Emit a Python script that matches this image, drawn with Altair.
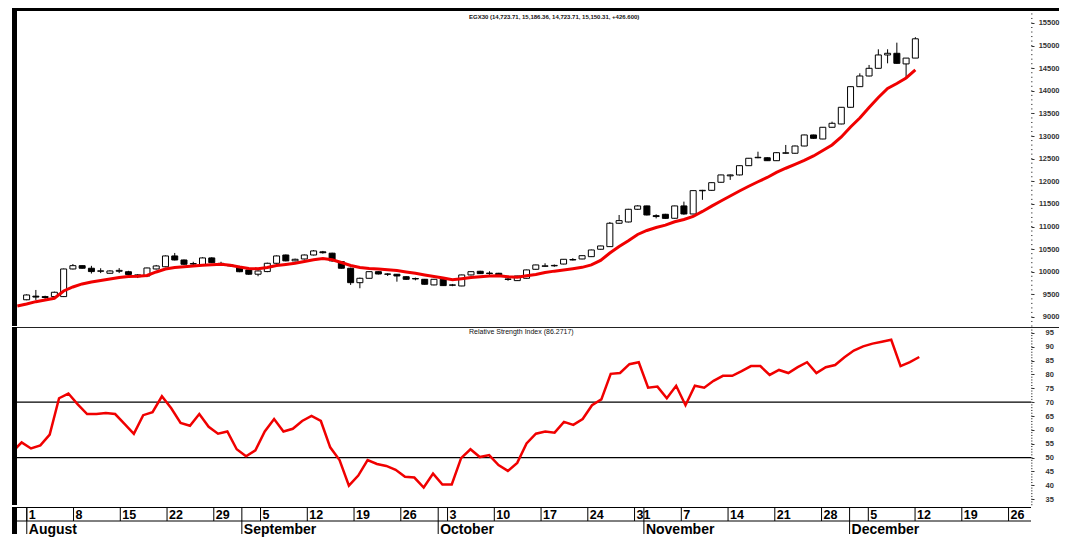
import altair as alt
import pandas as pd

# ---------------- data ----------------
# candles: Sun 31 Jul 2022 ... Mon 12 Dec 2022 (Egyptian trading week Sun-Thu)
opens = [9380, 9460, 9450, 9450, 9450, 10061, 10134, 10077, 10010, 9966, 10010, 10000, 9930, 9906,
         10061, 10110, 10349, 10260, 10180, 10150, 10305, 10185, 10150, 10110, 10040, 9945, 10003,
         10187, 10370, 10240, 10282, 10370, 10440, 10410, 10223, 10077, 9758, 9855, 10001, 9950,
         9944, 9890, 9850, 9833, 9708, 9833, 9700, 9685, 9929, 10010, 9970, 9966, 9840, 9803, 9855,
         10054, 10120, 10130, 10170, 10260, 10282, 10333, 10497, 10555, 11072, 11100, 11381, 11455,
         11240, 11270, 11182, 11455, 11277, 11790, 11800, 11978, 12120, 12140, 12345, 12520, 12520,
         12455, 12620, 12620, 12780, 13024, 12935, 13194, 13267, 13636, 14092, 14328, 14498, 14793,
         14830, 14595, 14723.71]
highs = [9500, 9597, 9470, 9560, 10070, 10170, 10140, 10130, 10077, 10030, 10080, 10020, 9945, 10090,
         10150, 10360, 10415, 10270, 10220, 10320, 10320, 10220, 10170, 10130, 10050, 10030, 10200,
         10360, 10380, 10290, 10380, 10480, 10460, 10420, 10230, 10090, 9870, 10010, 10010, 9966,
         9950, 9900, 9870, 9840, 9840, 9840, 9730, 9935, 10010, 10020, 10010, 9975, 9870, 9910, 10045,
         10155, 10187, 10160, 10280, 10300, 10360, 10490, 10575, 11100, 11255, 11390, 11470, 11460,
         11270, 11280, 11460, 11550, 11800, 11810, 11975, 12145, 12150, 12350, 12515, 12654, 12530,
         12640, 12803, 12790, 13030, 13030, 13200, 13318, 13640, 14100, 14387, 14572, 14918, 14918,
         15065, 14725, 15186.36]
lows = [9370, 9376, 9400, 9440, 9440, 10050, 10070, 9960, 9970, 9960, 9970, 9930, 9860, 9880,
        10050, 10100, 10250, 10150, 10120, 10140, 10190, 10130, 10110, 9990, 9930, 9900, 9990,
        10180, 10230, 10230, 10270, 10360, 10400, 10220, 10070, 9708, 9635, 9850, 9940, 9906,
        9780, 9820, 9810, 9715, 9700, 9685, 9680, 9680, 9920, 9950, 9930, 9900, 9800, 9795, 9850,
        10045, 10110, 10110, 10165, 10250, 10275, 10325, 10490, 10550, 11060, 11090, 11370, 11245,
        11180, 11170, 11175, 11260, 11270, 11590, 11790, 11970, 12030, 12130, 12340, 12510, 12450,
        12450, 12610, 12610, 12775, 12940, 12930, 13190, 13260, 13630, 14085, 14320, 14490, 14608,
        14600, 14277, 14723.71]
closes = [9486, 9440, 9430, 9546, 10061, 10134, 10077, 10003, 10020, 10017, 10030, 9940, 9890, 10083,
          10128, 10349, 10260, 10165, 10170, 10305, 10200, 10175, 10130, 10000, 9945, 10017, 10187,
          10349, 10240, 10275, 10370, 10460, 10420, 10240, 10077, 9758, 9855, 10001, 9950, 9945,
          9906, 9833, 9840, 9723, 9833, 9693, 9710, 9929, 10001, 9958, 9960, 9906, 9830, 9906, 10040,
          10150, 10130, 10140, 10275, 10270, 10355, 10481, 10570, 11072, 11130, 11381, 11455, 11255,
          11220, 11180, 11455, 11277, 11793, 11800, 11969, 12140, 12140, 12345, 12509, 12530, 12455,
          12632, 12630, 12780, 13024, 12950, 13194, 13282, 13636, 14092, 14328, 14498, 14793, 14830,
          14608, 14723.71, 15150.31]

# red moving average and RSI: Thu 28 Jul 2022 ... Mon 12 Dec 2022
ma_line = [9243, 9287, 9338, 9376, 9413, 9575, 9663, 9730, 9774, 9807, 9840, 9873, 9895, 9900, 9918,
           9995, 10061, 10094, 10112, 10128, 10143, 10154, 10165, 10143, 10105, 10072, 10066, 10094,
           10139, 10161, 10187, 10227, 10265, 10293, 10265, 10205, 10139, 10094, 10072, 10061, 10044,
           10026, 9995, 9964, 9929, 9895, 9862, 9822, 9845, 9871, 9891, 9906, 9913, 9891, 9878, 9911,
           9940, 9982, 10013, 10039, 10068, 10097, 10150, 10249, 10415, 10559, 10685, 10824, 10912,
           10979, 11030, 11105, 11156, 11222, 11333, 11450, 11565, 11675, 11786, 11890, 11989, 12084,
           12195, 12288, 12372, 12460, 12560, 12681, 12803, 12980, 13201, 13400, 13632, 13853, 14052,
           14163, 14284, 14461]
rsi_line = [52.0, 55.5, 53.3, 54.4, 58.3, 71.4, 73.1, 69.2, 65.7, 65.7, 66.1, 65.7, 62.2, 58.6, 65.3,
            66.4, 72.1, 67.8, 62.5, 61.5, 65.7, 61.1, 58.6, 59.4, 53.0, 50.5, 52.6, 59.4, 63.9, 59.4,
            60.4, 63.2, 65.0, 63.2, 53.7, 49.1, 39.9, 43.5, 49.1, 47.7, 47.0, 45.6, 43.1, 42.8, 39.2,
            44.2, 40.3, 40.3, 49.8, 53.0, 50.2, 50.9, 47.3, 45.2, 48.1, 55.1, 58.6, 59.4, 59.0, 62.9,
            61.8, 63.9, 68.9, 71.0, 80.2, 80.5, 83.7, 84.4, 75.2, 75.6, 71.4, 75.9, 68.9, 75.9, 75.2,
            77.7, 79.5, 79.5, 81.2, 83.0, 83.0, 79.8, 81.6, 80.5, 82.6, 84.4, 80.5, 82.6, 83.4, 86.2,
            88.6, 90.1, 91.1, 91.8, 92.5, 83.0, 84.4, 86.2717]

price_ticks = [9000, 9500, 10000, 10500, 11000, 11500, 12000, 12500, 13000, 13500, 14000, 14500,
               15000, 15500]
price_minor = list(range(8800, 15800, 100))
rsi_ticks = [35, 40, 45, 50, 55, 60, 65, 70, 75, 80, 85, 90, 95]
rsi_minor = list(range(33, 97))
rsi_levels = [70, 50]
month_numbers = [8, 9, 10, 11, 12]
month_names = ["August", "September", "October", "November", "December"]

# ---------------- trading calendar -> slot index (Mon 1 Aug 2022 = 0) ----------------
all_days = pd.date_range("2022-07-28", "2022-12-31", freq="D")
trade_days = list(all_days[all_days.dayofweek.isin([6, 0, 1, 2, 3])])
origin = trade_days.index(pd.Timestamp("2022-08-01"))
slots = [k - origin for k in range(len(trade_days))]

line_slots = slots[:len(ma_line)]
candle_slots = slots[1:1 + len(opens)]

candles = pd.DataFrame({"pos": candle_slots, "open": opens, "high": highs,
                        "low": lows, "close": closes})
lines = pd.DataFrame({"pos": line_slots, "ma": ma_line, "rsi": rsi_line})

mondays = [(d, s) for d, s in zip(trade_days, slots) if d.dayofweek == 0 and s >= 0]
weeks = pd.DataFrame({"pos": [s - 0.45 for _, s in mondays],
                      "label": [str(d.day) for d, _ in mondays]})
month_pos = []
for m in month_numbers:
    first = min(s for d, s in zip(trade_days, slots) if d.month == m)
    month_pos.append(first - 0.45)
months = pd.DataFrame({"pos": month_pos, "label": month_names})

prev_close = closes[-2]
title_txt = "EGX30 ({:,.2f}, {:,.2f}, {:,.2f}, {:,.2f}, {:+.3f})".format(
    opens[-1], highs[-1], lows[-1], closes[-1], closes[-1] - prev_close)
rsi_txt = "Relative Strength Index ({:.4f})".format(rsi_line[-1])

# ---------------- layout ----------------
W = 1014
H_P = 315
H_R = 178
H_A = 27
FONT = "Liberation Sans, Arial, sans-serif"
RED = "#f00000"

xs = alt.Scale(domain=[-1.497, 106.95], nice=False, zero=False)
ps = alt.Scale(domain=[8800, 15765], nice=False, zero=False)
rs = alt.Scale(domain=[32.9, 97.1], nice=False, zero=False)

X = alt.X("pos:Q", scale=xs, axis=None)

price_axis = alt.Axis(orient="right", values=price_ticks, format="d", domain=False, grid=False,
                      tickSize=3, tickColor="#333", tickWidth=1, labelFont=FONT, labelFontSize=7.5,
                      labelFontWeight="bold", labelColor="#333", labelAlign="right",
                      labelPadding=25, labelOverlap=False, labelBound=False, title=None)
rsi_axis = alt.Axis(orient="right", values=rsi_ticks, format="d", domain=False, grid=False,
                    tickSize=3, tickColor="#333", tickWidth=1, labelFont=FONT, labelFontSize=7.5,
                    labelFontWeight="bold", labelColor="#333", labelAlign="left",
                    labelPadding=11, labelOverlap=False, labelBound=False, title=None)

one = pd.DataFrame({"t": [title_txt]})
one_rsi = pd.DataFrame({"t": [rsi_txt]})

# ---- price panel ----
wicks = alt.Chart(candles).mark_rule(color="black", strokeWidth=1).encode(
    x=X, y=alt.Y("low:Q", scale=ps, axis=price_axis), y2="high:Q")
bodies = alt.Chart(candles).mark_bar(width=6, stroke="black", strokeWidth=1).encode(
    x=X, y=alt.Y("open:Q", scale=ps, axis=price_axis), y2="close:Q",
    fill=alt.when("datum.close >= datum.open").then(alt.value("white")).otherwise(alt.value("black")))
ma = alt.Chart(lines).mark_line(color=RED, strokeWidth=3, clip=True).encode(
    x=X, y=alt.Y("ma:Q", scale=ps, axis=price_axis))
p_minor = alt.Chart(pd.DataFrame({"v": price_minor})).mark_rule(color="#555", strokeWidth=1).encode(
    y=alt.Y("v:Q", scale=ps, axis=price_axis), x=alt.value(W), x2=alt.value(W + 1.5))
top_band = alt.Chart(one).mark_rect(color="black").encode(
    x=alt.value(-5), x2=alt.value(W + 28), y=alt.value(-3), y2=alt.value(0))
left_p = alt.Chart(one).mark_rect(color="black").encode(
    x=alt.value(-5), x2=alt.value(0), y=alt.value(-3), y2=alt.value(H_P))
title_p = alt.Chart(one).mark_text(align="left", baseline="middle", font=FONT, fontSize=6,
                                   fontWeight="bold", color="#111").encode(
    x=alt.value(452), y=alt.value(6), text="t:N")
price_panel = alt.layer(p_minor, wicks, bodies, ma, top_band, left_p, title_p).properties(
    width=W, height=H_P)

# ---- RSI panel ----
rsi_l = alt.Chart(lines).mark_line(color=RED, strokeWidth=2.5, clip=True).encode(
    x=X, y=alt.Y("rsi:Q", scale=rs, axis=rsi_axis))
levels = alt.Chart(pd.DataFrame({"lv": rsi_levels})).mark_rule(color="black", strokeWidth=1.2).encode(
    y=alt.Y("lv:Q", scale=rs, axis=rsi_axis), x=alt.value(0), x2=alt.value(W))
r_minor = alt.Chart(pd.DataFrame({"v": rsi_minor})).mark_rule(color="#555", strokeWidth=1).encode(
    y=alt.Y("v:Q", scale=rs, axis=rsi_axis), x=alt.value(W), x2=alt.value(W + 1.5))
sep_r = alt.Chart(one).mark_rule(color="#222", strokeWidth=1).encode(
    x=alt.value(0), x2=alt.value(W + 28), y=alt.value(0.5))
left_r = alt.Chart(one).mark_rect(color="black").encode(
    x=alt.value(-5), x2=alt.value(0), y=alt.value(0), y2=alt.value(H_R))
title_r = alt.Chart(one_rsi).mark_text(align="left", baseline="middle", font=FONT, fontSize=7,
                                       color="#111").encode(
    x=alt.value(452), y=alt.value(5), text="t:N")
rsi_panel = alt.layer(r_minor, levels, rsi_l, sep_r, left_r, title_r).properties(width=W, height=H_R)

# ---- date axis panel ----
hl1 = alt.Chart(one).mark_rule(color="black", strokeWidth=1).encode(
    x=alt.value(0), x2=alt.value(W), y=alt.value(0.5))
hl2 = alt.Chart(one).mark_rule(color="black", strokeWidth=1).encode(
    x=alt.value(0), x2=alt.value(W), y=alt.value(14))
wk_rules = alt.Chart(weeks).mark_rule(color="black", strokeWidth=1).encode(
    x=X, y=alt.value(0), y2=alt.value(14))
wk_text = alt.Chart(weeks).mark_text(align="left", baseline="alphabetic", dx=2, font=FONT,
                                     fontSize=12.5, fontWeight="bold", color="black").encode(
    x=X, y=alt.value(11.5), text="label:N")
mo_rules = alt.Chart(months).mark_rule(color="black", strokeWidth=1).encode(
    x=X, y=alt.value(0), y2=alt.value(H_A))
mo_text = alt.Chart(months).mark_text(align="left", baseline="alphabetic", dx=2, font=FONT,
                                      fontSize=14, fontWeight="bold", color="black").encode(
    x=X, y=alt.value(26.5), text="label:N")
left_a = alt.Chart(one).mark_rect(color="black").encode(
    x=alt.value(-5), x2=alt.value(0), y=alt.value(0), y2=alt.value(H_A))
axis_panel = alt.layer(hl1, hl2, wk_rules, mo_rules, wk_text, mo_text, left_a).properties(
    width=W, height=H_A)

chart = alt.vconcat(price_panel, rsi_panel, axis_panel, spacing=0).properties(
    padding={"left": 4, "top": 0, "right": 0, "bottom": 0},
    background="white",
).configure_view(stroke=None).configure_concat(spacing=0)

chart.save("out.html", embed_options={"renderer": "svg", "actions": False})
